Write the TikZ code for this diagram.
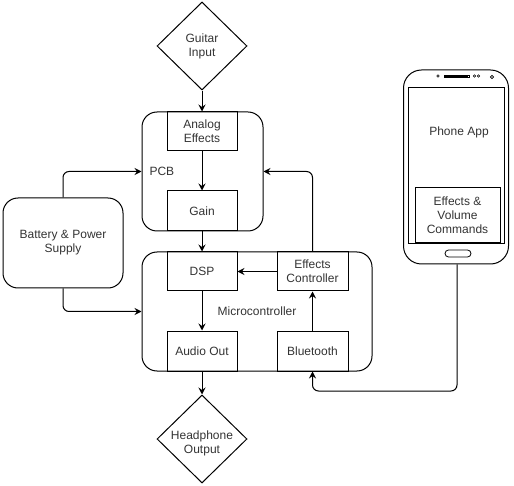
\documentclass[tikz,border=0pt]{standalone}
\usepackage{fontspec}
\setmainfont{Liberation Sans}
\usetikzlibrary{shapes.geometric,arrows.meta,calc}
\begin{document}
\begin{tikzpicture}[x=1pt,y=-1pt,
  every node/.style={font=\fontsize{12}{14}\selectfont, text=black!80, align=center},
  line/.style={line width=1pt, draw=black},
  arr/.style={line, -{Stealth[length=7pt,width=7pt,inset=2.5pt]}},
  blk/.style={line, rectangle, inner sep=0pt},
  grp/.style={line, rectangle, rounded corners=15pt, inner sep=0pt},
  dia/.style={line, diamond, inner sep=0pt, minimum width=90pt, minimum height=88pt}
]
\useasboundingbox (0,0) rectangle (514,486);

% groups
\node[grp, minimum width=121pt, minimum height=119pt] (pcb) at (202.5,171.5) {};
\node[grp, minimum width=230pt, minimum height=119pt] (micro) at (257,311.5) {};
\node[anchor=west] (pcblbl) at (146,171) {PCB};
\node (microlbl) at (257,311) {Microcontroller};

% diamonds
\node[dia] (gin) at (202,46) {Guitar\\Input};
\node[dia] (hp) at (202,439) {};
\node (hplbl) at (202,443) {Headphone\\Output};

% blocks
\node[blk, minimum width=70pt, minimum height=39pt] (ae) at (202,131.5) {Analog\\Effects};
\node[blk, minimum width=70pt, minimum height=40pt] (gain) at (202,211) {Gain};
\node[blk, minimum width=70pt, minimum height=39pt] (dsp) at (202,271.5) {DSP};
\node[blk, minimum width=71pt, minimum height=39pt] (ec) at (312.5,271.5) {Effects\\Controller};
\node[blk, minimum width=70pt, minimum height=40pt] (ao) at (202,351) {Audio Out};
\node[blk, minimum width=71pt, minimum height=40pt] (bt) at (312.5,351) {Bluetooth};

% battery
\node[grp, minimum width=120pt, minimum height=90pt] (bat) at (63,243) {Battery \& Power\\Supply};

% phone
\node[line, rectangle, rounded corners=18pt, minimum width=105pt, minimum height=194pt, inner sep=0pt] (phone) at (456,167) {};
\node[line, rectangle, minimum width=96pt, minimum height=156pt, inner sep=0pt] (screen) at (456,166) {};
\node (app) at (459,132) {Phone App};
\node[blk, minimum width=85pt, minimum height=55pt] (evc) at (457.5,215.5) {Effects \&\\Volume\\Commands};
% phone details
\draw[line width=0.8pt] (445,76) -- (468,76);
\draw[line width=0.6pt] (444,75) rectangle (469,77.5);
\draw[line width=0.6pt] (438,76) circle (1.3pt);
\draw[line width=0.6pt] (474.5,76) circle (1.3pt);
\draw[line width=0.6pt] (478.5,76) circle (1.3pt);
\draw[line width=0.6pt] (492,77) circle (1.6pt);
\draw[line width=0.8pt, rounded corners=3.5pt] (445,250) rectangle (471,257);

% connectors
\draw[arr] (gin) -- (ae);
\draw[arr] (ae) -- (gain);
\draw[arr] (gain) -- (dsp);
\draw[arr] (ec) -- (dsp);
\draw[arr] (dsp) -- (ao);
\draw[arr] (bt) -- (ec);
\draw[arr] (ao) -- (hp);
\draw[arr, rounded corners=6pt] (ec.north) |- (pcb.east);
\draw[arr, rounded corners=6pt] (bat.north) |- (pcb.west);
\draw[arr, rounded corners=6pt] (bat.south) |- (micro.west);
\coordinate (pc) at (457,391);
\draw[arr, rounded corners=6pt] (phone.south -| pc) -- (pc) -| (bt.south);
\end{tikzpicture}
\end{document}
